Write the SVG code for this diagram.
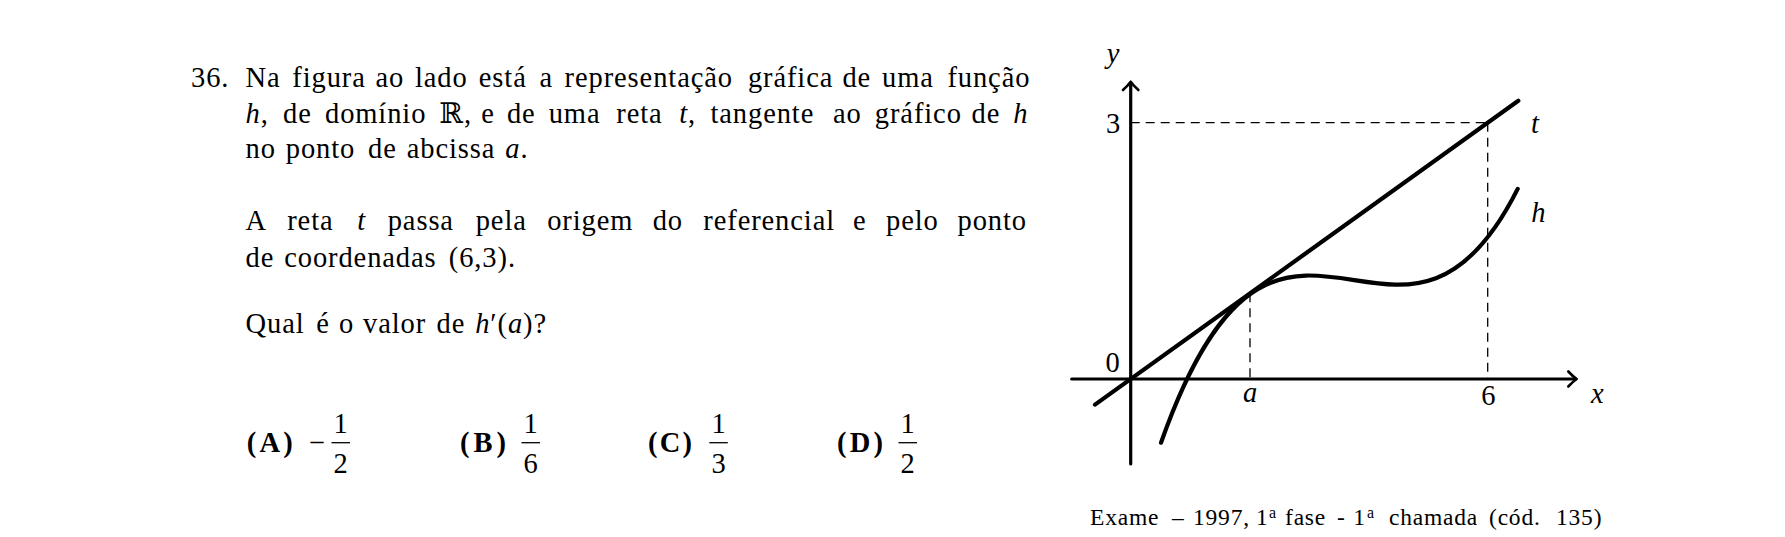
<svg xmlns="http://www.w3.org/2000/svg" width="1785" height="537" viewBox="0 0 1785 537">
<style>
.t{font-family:"Liberation Serif","DejaVu Serif",serif;font-size:28.5px;fill:#000;letter-spacing:0.9px}
.it{font-style:italic}
.bf{font-weight:bold}
.lbl{font-family:"Liberation Serif","DejaVu Serif",serif;font-size:28.5px;fill:#000;text-anchor:middle}
.cap{font-family:"Liberation Serif","DejaVu Serif",serif;font-size:23.5px;fill:#000;letter-spacing:0.8px}
.sup{font-family:"Liberation Serif","DejaVu Serif",serif;font-size:16px;fill:#000}
.axis{fill:none;stroke:#000;stroke-width:3.2;stroke-linecap:round}
.head{fill:none;stroke:#000;stroke-width:2.6;stroke-linecap:round;stroke-linejoin:round}
.curve{fill:none;stroke:#000;stroke-width:4.2;stroke-linecap:round}
.dash{fill:none;stroke:#000;stroke-width:1.3;stroke-dasharray:9 6}
.bar{stroke:#000;stroke-width:1.3}
</style>
<rect width="1785" height="537" fill="#fff"/>

<g id="question">
<text class="t" y="86.5"><tspan x="191">36.</tspan><tspan x="245.5">Na</tspan><tspan x="292.3">figura</tspan><tspan x="375.4">ao</tspan><tspan x="415">lado</tspan><tspan x="478.8">está</tspan><tspan x="539.5">a</tspan><tspan x="564.6">representação</tspan><tspan x="747.9">gráfica</tspan><tspan x="842.4">de</tspan><tspan x="882">uma</tspan><tspan x="947.4">função</tspan></text>
<text class="t" y="122.5"><tspan x="245.5" class="it">h</tspan><tspan>,</tspan><tspan x="283.1">de</tspan><tspan x="325">domínio</tspan><tspan x="439.3">ℝ,</tspan><tspan x="481.2">e</tspan><tspan x="506.9">de</tspan><tspan x="548.7">uma</tspan><tspan x="616.3">reta</tspan><tspan x="679.2" class="it">t</tspan><tspan>,</tspan><tspan x="710.5">tangente</tspan><tspan x="832.9">ao</tspan><tspan x="874.8">gráfico</tspan><tspan x="971.5">de</tspan><tspan x="1013.3" class="it">h</tspan></text>
<text class="t" y="158"><tspan x="245.5">no</tspan><tspan x="285.8">ponto</tspan><tspan x="368">de</tspan><tspan x="406.7">abcissa</tspan><tspan x="505.3" class="it">a</tspan><tspan>.</tspan></text>
<text class="t" y="230"><tspan x="245.5">A</tspan><tspan x="287.2">reta</tspan><tspan x="357.2" class="it">t</tspan><tspan x="387.7">passa</tspan><tspan x="475.7">pela</tspan><tspan x="547.2">origem</tspan><tspan x="652.7">do</tspan><tspan x="703.3">referencial</tspan><tspan x="853.1">e</tspan><tspan x="886">pelo</tspan><tspan x="957.5">ponto</tspan></text>
<text class="t" y="266.5"><tspan x="245.5">de</tspan><tspan x="284.2">coordenadas</tspan><tspan x="448.8">(6,3).</tspan></text>
<text class="t" y="333"><tspan x="245.5">Qual</tspan><tspan x="316.3">é</tspan><tspan x="338.9">o</tspan><tspan x="363.1">valor</tspan><tspan x="436.5">de</tspan><tspan x="475.2" class="it">h</tspan><tspan>′(</tspan><tspan class="it">a</tspan><tspan>)?</tspan></text>
</g>

<g id="options">
<g id="opt-a">
<text class="t bf" x="246.7" y="451.7" textLength="47" lengthAdjust="spacing">(A)</text>
<text class="lbl" x="316.7" y="451.7">−</text>
<text class="lbl" x="340.7" y="433.3">1</text>
<line class="bar" x1="331.5" y1="442.7" x2="350" y2="442.7"/>
<text class="lbl" x="340.7" y="473.3">2</text>
</g>
<g id="opt-b">
<text class="t bf" x="460" y="451.7" textLength="47" lengthAdjust="spacing">(B)</text>
<text class="lbl" x="530.7" y="433.3">1</text>
<line class="bar" x1="521.5" y1="442.7" x2="540" y2="442.7"/>
<text class="lbl" x="530.7" y="473.3">6</text>
</g>
<g id="opt-c">
<text class="t bf" x="648" y="451.7" textLength="45" lengthAdjust="spacing">(C)</text>
<text class="lbl" x="718.5" y="433.3">1</text>
<line class="bar" x1="709.3" y1="442.7" x2="727.8" y2="442.7"/>
<text class="lbl" x="718.5" y="473.3">3</text>
</g>
<g id="opt-d">
<text class="t bf" x="837" y="451.7" textLength="47" lengthAdjust="spacing">(D)</text>
<text class="lbl" x="907.7" y="433.3">1</text>
<line class="bar" x1="898.5" y1="442.7" x2="917" y2="442.7"/>
<text class="lbl" x="907.7" y="473.3">2</text>
</g>
</g>

<g id="graph">
<g id="guides">
<line class="dash" x1="1130.7" y1="122.7" x2="1487.7" y2="122.7"/>
<line class="dash" x1="1487.7" y1="122.7" x2="1487.7" y2="379"/>
<line class="dash" x1="1250" y1="293.3" x2="1250" y2="379"/>
</g>
<g id="axes">
<line class="axis" x1="1071.7" y1="379" x2="1575.5" y2="379"/>
<path class="head" d="M1568.3 371.5 Q1573 376.5 1576.7 379 Q1573 381.5 1568.3 386.5"/>
<line class="axis" x1="1130.7" y1="464" x2="1130.7" y2="83"/>
<path class="head" d="M1123 90 Q1128.2 85.3 1130.7 81.7 Q1133.2 85.3 1138.4 90"/>
</g>
<g id="line-t">
<line class="curve" x1="1095" y1="404.6" x2="1518.3" y2="100.8"/>
</g>
<g id="curve-h">
<path class="curve" d="M1161 442.7 C1279.9 105.5 1398.8 424.9 1517.7 188.9"/>
</g>
<g id="labels">
<text class="lbl it" x="1113" y="63">y</text>
<text class="lbl" x="1113" y="133.3">3</text>
<text class="lbl" x="1112.7" y="371.7">0</text>
<text class="lbl it" x="1250" y="401.7">a</text>
<text class="lbl" x="1488.3" y="405">6</text>
<text class="lbl it" x="1597.3" y="403">x</text>
<text class="lbl it" x="1535" y="133">t</text>
<text class="lbl it" x="1538.3" y="221.7">h</text>
</g>
</g>

<g id="caption">
<text class="cap" y="525"><tspan x="1090">Exame</tspan><tspan x="1172">–</tspan><tspan x="1193">1997,</tspan><tspan x="1256">1</tspan><tspan x="1285">fase</tspan><tspan x="1337">-</tspan><tspan x="1353.3">1</tspan><tspan x="1389">chamada</tspan><tspan x="1489">(cód.</tspan><tspan x="1556">135)</tspan></text>
<text class="sup" x="1269" y="518">a</text>
<text class="sup" x="1367" y="518">a</text>
</g>
</svg>
